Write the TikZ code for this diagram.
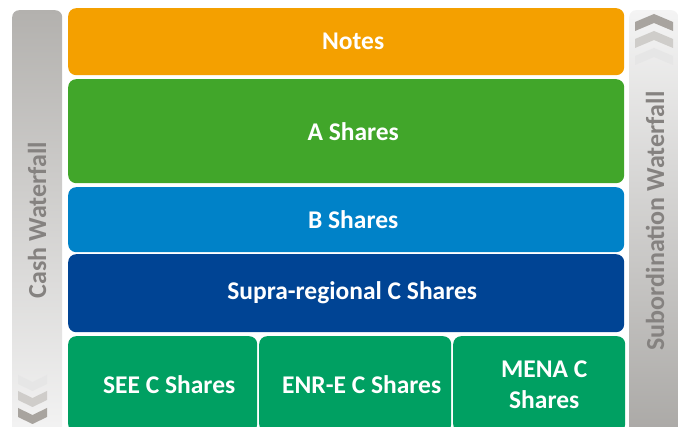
\documentclass[tikz,border=0pt]{standalone}
\usepackage{fontspec}
\setmainfont{Carlito}
\definecolor{cOrange}{HTML}{F4A000}
\definecolor{cGreenA}{HTML}{41A62A}
\definecolor{cBlue}{HTML}{0082C8}
\definecolor{cNavy}{HTML}{004494}
\definecolor{cGreenC}{HTML}{00A062}
\definecolor{cSideTxt}{HTML}{858280}
\definecolor{cBarDark}{HTML}{B3B1AE}
\definecolor{cBarLight}{HTML}{F4F4F4}
\definecolor{cChevA}{HTML}{A8A49F}
\definecolor{cChevB}{HTML}{CFCDCA}
\definecolor{cChevC}{HTML}{E6E6E6}
\tikzset{
  tier/.style={rectangle, rounded corners=8pt, inner sep=0pt, anchor=north west},
  tiertext/.style={inner sep=0pt, text=white,
    font=\bfseries\fontsize{25.5}{31}\selectfont, align=center},
  sidebar/.style={rectangle, rounded corners=7pt, inner sep=0pt},
  sidetext/.style={text=cSideTxt, font=\bfseries\fontsize{26}{28}\selectfont, rotate=90, inner sep=0pt}
}
\begin{document}
\begin{tikzpicture}[x=1pt,y=1pt]
\clip (0,0) rectangle (679,427);
\fill[white] (0,0) rectangle (679,427);
% side bars
\node[sidebar, top color=cBarDark, bottom color=cBarLight, minimum width=50pt, minimum height=427pt, anchor=north west] (cashbar) at (12,417) {};
\node[sidebar, top color=cBarLight, bottom color=cBarDark!95!black, minimum width=49pt, minimum height=427pt, anchor=north west] (subbar) at (629,417) {};
\node[sidetext] (cashtxt) at (37,207) {Cash Waterfall};
\node[sidetext] (subtxt) at (655,206) {Subordination Waterfall};
% chevrons left (pointing down)
\foreach \yt/\c in {52/cChevC, 36/cChevB, 19/cChevA}{
  \fill[\c] (18,\yt) -- (32.5,\yt-7) -- (47,\yt) -- (47,\yt-9) -- (32.5,\yt-16) -- (18,\yt-9) -- cycle;
}
% chevrons right (pointing up)
\foreach \yb/\c in {362/cChevC, 379/cChevB, 396/cChevA}{
  \fill[\c] (635,\yb) -- (654,\yb+8) -- (673,\yb) -- (673,\yb+9) -- (654,\yb+17) -- (635,\yb+9) -- cycle;
}
% tiers
\node[tier, fill=cOrange, minimum width=556pt, minimum height=67pt] (notes) at (68,419) {};
\node[tier, fill=cGreenA, minimum width=556pt, minimum height=104pt] (ashares) at (68,348) {};
\node[tier, fill=cBlue, minimum width=556pt, minimum height=65pt] (bshares) at (68,240) {};
\node[tier, fill=cNavy, minimum width=556pt, minimum height=78pt] (supra) at (68,173) {};
\node[tier, fill=cGreenC, minimum width=189pt, minimum height=96pt] (see) at (68,91) {};
\node[tier, fill=cGreenC, minimum width=192pt, minimum height=96pt] (enre) at (259,91) {};
\node[tier, fill=cGreenC, minimum width=172pt, minimum height=96pt] (mena) at (453,91) {};
% labels
\node[tiertext] (notesT) at ([xshift=7pt]notes.center) {Notes};
\node[tiertext] (asharesT) at ([xshift=7pt]ashares.center) {A Shares};
\node[tiertext] (bsharesT) at ([xshift=7pt]bshares.center) {B Shares};
\node[tiertext] (supraT) at ([xshift=6pt]supra.center) {Supra-regional C Shares};
\node[tiertext] (seeT) at ([xshift=6.5pt]see.center) {SEE C Shares};
\node[tiertext] (enreT) at ([xshift=6.5pt]enre.center) {ENR-E C Shares};
\node[tiertext] (menaT) at ([xshift=5pt,yshift=-1pt]mena.center) {MENA C\\Shares};
\end{tikzpicture}
\end{document}
